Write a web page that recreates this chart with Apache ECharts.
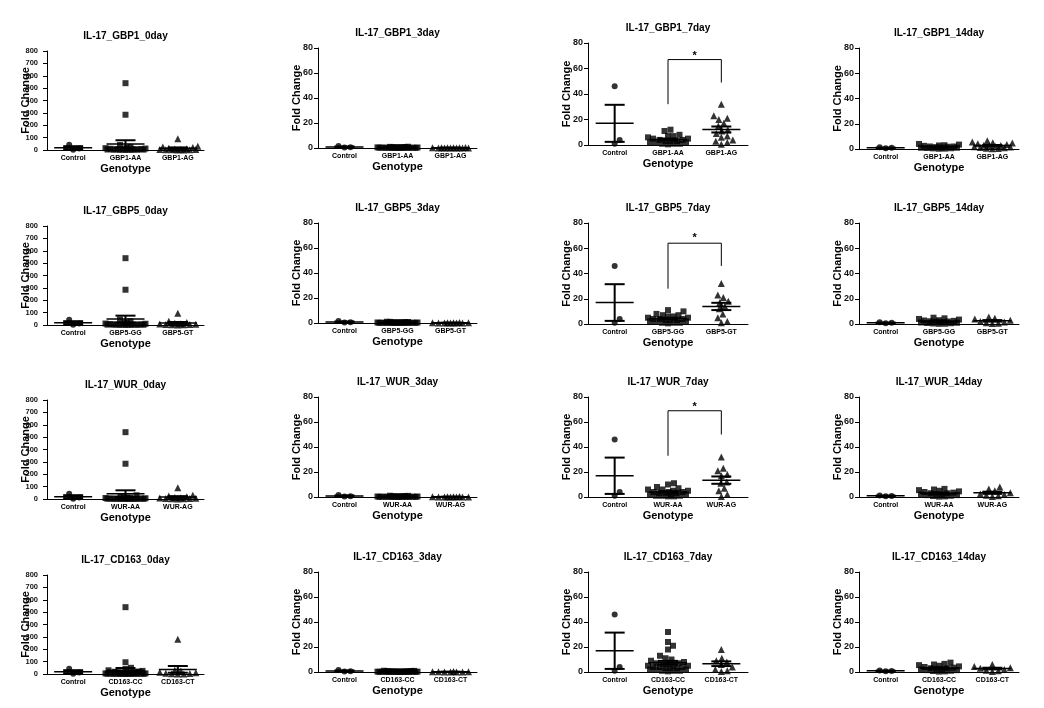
<!DOCTYPE html>
<html><head><meta charset="utf-8">
<script src="https://cdn.jsdelivr.net/npm/echarts@6/dist/echarts.min.js"></script>
<style>html,body{margin:0;padding:0;background:#fff}#c{width:1044px;height:708px}</style>
</head><body><div id="c"></div><script>
// ---------- DATA ----------
const genes = ['GBP1', 'GBP5', 'WUR', 'CD163'];
const days = ['0day', '3day', '7day', '14day'];
const genotypeLabels = {
  GBP1: ['GBP1-AA', 'GBP1-AG'],
  GBP5: ['GBP5-GG', 'GBP5-GT'],
  WUR: ['WUR-AA', 'WUR-AG'],
  CD163: ['CD163-CC', 'CD163-CT']
};
const yMaxByDay = [800, 80, 80, 80];
const yStepByDay = [100, 20, 20, 20];

const ctrl_0day = [42, 12, 3];
const ctrl_3day = [1.6, 0.7, 0.4];
const ctrl_7day = [46, 4, 1];
const ctrl_14day = [1.3, 0.9, 0.6];

const gbp1_0day_AA = [540, 285, 40, 25, 18, 15, 12, 10, 8, 7, 6, 5, 4, 4, 3, 2, 2, 1, 1, 0.5];
const gbp1_0day_AG = [90, 30, 25, 20, 15, 10, 8, 6, 5, 4, 3, 3, 2, 1, 1];
const gbp1_3day_AA = [1.0, 0.9, 0.8, 0.7, 0.7, 0.6, 0.5, 0.5, 0.4, 0.4, 0.3, 0.3, 0.3, 0.2, 0.2, 0.2, 0.1, 0.1, 0.1, 0.1, 0.05, 0.05];
const gbp1_3day_AG = [0.4, 0.3, 0.3, 0.2, 0.2, 0.2, 0.1, 0.1, 0.1, 0.1, 0.05, 0.05];
const gbp1_7day_AA = [12, 11, 8, 7, 7, 6, 5, 5, 4, 4, 3, 3, 3, 2, 2, 2, 1, 1, 1, 0.5];
const gbp1_7day_AG = [32, 23, 21, 20, 17, 15, 12, 11, 9, 7, 6, 4, 3, 2, 0.5];
const gbp1_14day_AA = [4, 3.5, 3, 2.8, 2.5, 2, 2, 1.8, 1.5, 1.2, 1, 1, 0.8, 0.6, 0.5, 0.3, 0.2];
const gbp1_14day_AG = [6.5, 5.5, 5, 4.8, 4.2, 3.5, 3, 2.8, 2.5, 2, 1.8, 1.5, 1.2, 1, 0.5, 0.3, 0.2];

const gbp5_0day_GG = [540, 285, 45, 30, 20, 15, 12, 10, 8, 6, 5, 5, 4, 3, 3, 2, 2, 1, 1, 1, 0.5];
const gbp5_0day_GT = [95, 30, 20, 15, 10, 8, 6, 5, 4, 3, 2, 1];
const gbp5_3day_GG = [1.0, 0.9, 0.8, 0.7, 0.6, 0.6, 0.5, 0.5, 0.4, 0.4, 0.3, 0.3, 0.3, 0.2, 0.2, 0.2, 0.1, 0.1, 0.1, 0.1, 0.05, 0.05, 0.05];
const gbp5_3day_GT = [0.4, 0.3, 0.2, 0.2, 0.2, 0.1, 0.1, 0.1, 0.05, 0.05];
const gbp5_7day_GG = [11, 10, 8, 7, 7, 6, 6, 5, 5, 4, 4, 4, 3, 3, 3, 2, 2, 2, 1, 1, 1, 0.5];
const gbp5_7day_GT = [32, 23, 21, 18, 17, 14, 12, 8, 5, 2, 1];
const gbp5_14day_GG = [5, 4.5, 4, 3.5, 3, 2.8, 2.5, 2.2, 2, 1.8, 1.5, 1.2, 1, 0.8, 0.6, 0.4, 0.2, 0.1];
const gbp5_14day_GT = [5.5, 4.5, 4, 3, 2, 1.5, 1, 0.6, 0.3];

const wur_0day_AA = [540, 285, 30, 20, 15, 12, 10, 8, 6, 5, 5, 4, 3, 3, 2, 2, 1, 1, 1, 0.5, 0.5, 0.5];
const wur_0day_AG = [90, 30, 25, 18, 12, 10, 8, 6, 5, 4, 3, 2, 1];
const wur_3day_AA = [1.0, 0.9, 0.8, 0.7, 0.6, 0.5, 0.5, 0.4, 0.4, 0.3, 0.3, 0.3, 0.2, 0.2, 0.2, 0.1, 0.1, 0.1, 0.1, 0.05, 0.05, 0.05];
const wur_3day_AG = [0.4, 0.3, 0.2, 0.2, 0.1, 0.1, 0.1, 0.05, 0.05, 0.05];
const wur_7day_AA = [11, 10, 8, 7, 6, 6, 5, 5, 4, 4, 4, 3, 3, 3, 2, 2, 2, 1, 1, 1, 0.5, 0.5];
const wur_7day_AG = [32, 23, 21, 18, 17, 12, 11, 7, 5, 2, 0.5];
const wur_14day_AA = [6.5, 6, 5.5, 5, 4.5, 4, 3.5, 3, 3, 2.5, 2, 2, 1.5, 1.5, 1, 0.8, 0.5, 0.3];
const wur_14day_AG = [8, 6.5, 5, 3.5, 2.5, 2, 1.5, 1, 0.5];

const cd163_0day_CC = [540, 95, 50, 40, 30, 25, 20, 18, 15, 12, 10, 9, 8, 7, 6, 5, 5, 4, 4, 3, 3, 2, 2, 2, 1, 1, 1, 0.5, 0.5, 0.5];
const cd163_0day_CT = [280, 30, 25, 15, 10, 6, 4, 2, 1, 0.5];
const cd163_3day_CC = [1.0, 0.9, 0.8, 0.7, 0.6, 0.6, 0.5, 0.5, 0.4, 0.4, 0.4, 0.3, 0.3, 0.3, 0.2, 0.2, 0.2, 0.2, 0.1, 0.1, 0.1, 0.1, 0.05, 0.05, 0.05, 0.05];
const cd163_3day_CT = [0.4, 0.3, 0.2, 0.2, 0.1, 0.1, 0.05, 0.05];
const cd163_7day_CC = [32, 24, 21, 18, 13, 11, 10, 9, 8, 7, 7, 6, 6, 5, 5, 5, 4, 4, 4, 3, 3, 3, 2, 2, 2, 1, 1, 1, 0.5];
const cd163_7day_CT = [18, 11, 9, 8, 6, 4, 2, 1, 0.5];
const cd163_14day_CC = [7.5, 6.5, 6, 5.5, 5, 4.5, 4, 3.5, 3, 3, 2.5, 2, 2, 1.5, 1.5, 1, 0.8, 0.5, 0.3];
const cd163_14day_CT = [6, 4.5, 3.5, 3, 2, 1.5, 1, 0.5];

// significance brackets on the 7day panels (GBP1, GBP5, WUR): left leg bottom, top, right leg bottom, star
const sig_leftBottom = [32, 28, 33];
const sig_top = [67, 64, 69];
const sig_rightBottom = [49, 46, 50];
const sig_star = [70, 68, 72];
const sig_label = '*';

const controls = [ctrl_0day, ctrl_3day, ctrl_7day, ctrl_14day];
const groups = {
  GBP1: [[gbp1_0day_AA, gbp1_0day_AG], [gbp1_3day_AA, gbp1_3day_AG], [gbp1_7day_AA, gbp1_7day_AG], [gbp1_14day_AA, gbp1_14day_AG]],
  GBP5: [[gbp5_0day_GG, gbp5_0day_GT], [gbp5_3day_GG, gbp5_3day_GT], [gbp5_7day_GG, gbp5_7day_GT], [gbp5_14day_GG, gbp5_14day_GT]],
  WUR: [[wur_0day_AA, wur_0day_AG], [wur_3day_AA, wur_3day_AG], [wur_7day_AA, wur_7day_AG], [wur_14day_AA, wur_14day_AG]],
  CD163: [[cd163_0day_CC, cd163_0day_CT], [cd163_3day_CC, cd163_3day_CT], [cd163_7day_CC, cd163_7day_CT], [cd163_14day_CC, cd163_14day_CT]]
};

// ---------- LAYOUT ----------
const FONT = 'Liberation Sans, Arial, sans-serif';
const colLeft = [47, 318, 588, 859];
const colRight = [204, 477, 748, 1019];
const colTops = [[51, 226, 400, 575], [48, 223, 397, 572], [43, 223, 397, 572], [48, 223, 397, 572]];
const colBottoms = [[150, 325, 499, 674], [148, 323, 497, 672], [145, 324, 497, 672], [149, 324, 497, 672]];
const SYM = 6;
const symbols = ['circle', 'rect', 'triangle'];
const symSizes = [6, 6, 7];

function stats(a) {
  const n = a.length;
  const m = a.reduce((s, v) => s + v, 0) / n;
  const sd = Math.sqrt(a.reduce((s, v) => s + (v - m) * (v - m), 0) / (n - 1));
  return [m, sd / Math.sqrt(n)];
}

// beeswarm-style horizontal spread (dot-plot layout)
function swarm(vals, ppu, maxHalf) {
  const order = vals.map((v, i) => i).sort((a, b) => vals[a] - vals[b]);
  const placed = [];
  const off = new Array(vals.length).fill(0);
  const cands = [0];
  for (let d = 0.5; d <= maxHalf; d += 0.5) { cands.push(d); cands.push(-d); }
  order.forEach(i => {
    const y = vals[i] * ppu;
    let chosen = null, best = -1, bestX = 0;
    for (const x of cands) {
      let minD = Infinity;
      for (const p of placed) {
        if (Math.abs(p[1] - y) >= SYM) continue;
        const dd = Math.hypot(p[0] - x, p[1] - y);
        if (dd < minD) minD = dd;
      }
      if (minD >= SYM) { chosen = x; break; }
      if (minD > best + 0.01) { best = minD; bestX = x; }
    }
    if (chosen === null) chosen = bestX;
    off[i] = chosen;
    placed.push([chosen, y]);
  });
  return off;
}

const grids = [], xAxes = [], yAxes = [], series = [], graphics = [];
let gi = 0;
genes.forEach((gene, r) => {
  days.forEach((day, c) => {
    const top = colTops[c][r], bottom = colBottoms[c][r];
    const left = colLeft[c], right = colRight[c];
    const h = bottom - top;
    grids.push({ left: left, top: top, width: right - left, height: h, outerBoundsMode: 'none', containLabel: false });
    const cats = ['Control'].concat(genotypeLabels[gene]);
    xAxes.push({
      gridIndex: gi, type: 'category', data: cats, boundaryGap: true,
      axisLine: { lineStyle: { color: '#000', width: 1 } },
      axisTick: { show: false },
      axisLabel: { interval: 0, fontSize: 7, fontWeight: 'bold', color: '#000', margin: 5, fontFamily: FONT },
      name: 'Genotype', nameLocation: 'middle', nameGap: 13, nameMoveOverlap: false,
      nameTextStyle: { fontSize: 11, fontWeight: 'bold', color: '#000', fontFamily: FONT }
    });
    yAxes.push({
      gridIndex: gi, type: 'value', min: 0, max: yMaxByDay[c], interval: yStepByDay[c],
      axisLine: { show: true, lineStyle: { color: '#000', width: 1 } },
      axisTick: { show: true, length: 4, lineStyle: { color: '#000' } },
      splitLine: { show: false },
      axisLabel: { fontSize: c === 0 ? 7.5 : 9, fontWeight: 'bold', color: '#111', margin: c === 0 ? 9 : 5, fontFamily: FONT },
      name: 'Fold Change', nameLocation: 'middle', nameGap: 16, nameMoveOverlap: false,
      nameTextStyle: { fontSize: 11, fontWeight: 'bold', color: '#000', fontFamily: FONT }
    });
    const sets = [controls[c], groups[gene][c][0], groups[gene][c][1]];
    const ppu = h / yMaxByDay[c];
    sets.forEach((vals, k) => {
      const off = swarm(vals, ppu, 20);
      series.push({
        type: 'scatter', xAxisIndex: gi, yAxisIndex: gi, symbol: symbols[k], symbolSize: symSizes[k],
        itemStyle: { color: '#000' }, silent: true, z: 2,
        data: vals.map((v, i) => ({ value: [k, v], symbolOffset: [off[i], 0] }))
      });
    });
    series.push({
      type: 'custom', xAxisIndex: gi, yAxisIndex: gi, z: 3, silent: true,
      data: sets.map((vals, k) => { const s = stats(vals); return [k, s[0], s[1]]; }),
      renderItem: function (params, api) {
        const x = api.value(0), m = api.value(1), s = api.value(2);
        const pm = api.coord([x, m]), ph = api.coord([x, m + s]), pl = api.coord([x, m - s]);
        const st = { stroke: '#000', lineWidth: 1.5 };
        const st2 = { stroke: '#000', lineWidth: 2 };
        return {
          type: 'group', children: [
            { type: 'line', shape: { x1: pm[0] - 19, y1: pm[1], x2: pm[0] + 19, y2: pm[1] }, style: st },
            { type: 'line', shape: { x1: pm[0], y1: ph[1], x2: pm[0], y2: pl[1] }, style: st2 },
            { type: 'line', shape: { x1: pm[0] - 10, y1: ph[1], x2: pm[0] + 10, y2: ph[1] }, style: st2 },
            { type: 'line', shape: { x1: pm[0] - 10, y1: pl[1], x2: pm[0] + 10, y2: pl[1] }, style: st2 }
          ]
        };
      }
    });
    if (c === 2 && r < 3) {
      series.push({
        type: 'custom', xAxisIndex: gi, yAxisIndex: gi, z: 3, silent: true,
        data: [[1, sig_leftBottom[r], sig_top[r], sig_rightBottom[r], sig_star[r]]],
        renderItem: function (params, api) {
          const a = api.coord([1, api.value(1)]), t1 = api.coord([1, api.value(2)]);
          const t2 = api.coord([2, api.value(2)]), b = api.coord([2, api.value(3)]);
          const sy = api.coord([1, api.value(4)]);
          return {
            type: 'group', children: [
              { type: 'polyline', shape: { points: [a, t1, t2, b] }, style: { stroke: '#000', lineWidth: 1, fill: null } },
              { type: 'text', x: (t1[0] + t2[0]) / 2, y: sy[1], style: { text: sig_label, align: 'center', verticalAlign: 'middle', textAlign: 'center', textVerticalAlign: 'middle', font: 'bold 11px ' + FONT, fill: '#000' } }
            ]
          };
        }
      });
    }
    graphics.push({
      type: 'text', x: (left + right) / 2, y: top - 15,
      style: { text: 'IL-17_' + gene + '_' + day, align: 'center', verticalAlign: 'middle', textAlign: 'center', textVerticalAlign: 'middle', font: 'bold 10px ' + FONT, fill: '#000' }
    });
    gi++;
  });
});

const chart = echarts.init(document.getElementById('c'), null, { renderer: 'canvas' });
chart.setOption({
  backgroundColor: '#fff', animation: false,
  grid: grids, xAxis: xAxes, yAxis: yAxes, series: series, graphic: graphics
});
</script></body></html>
